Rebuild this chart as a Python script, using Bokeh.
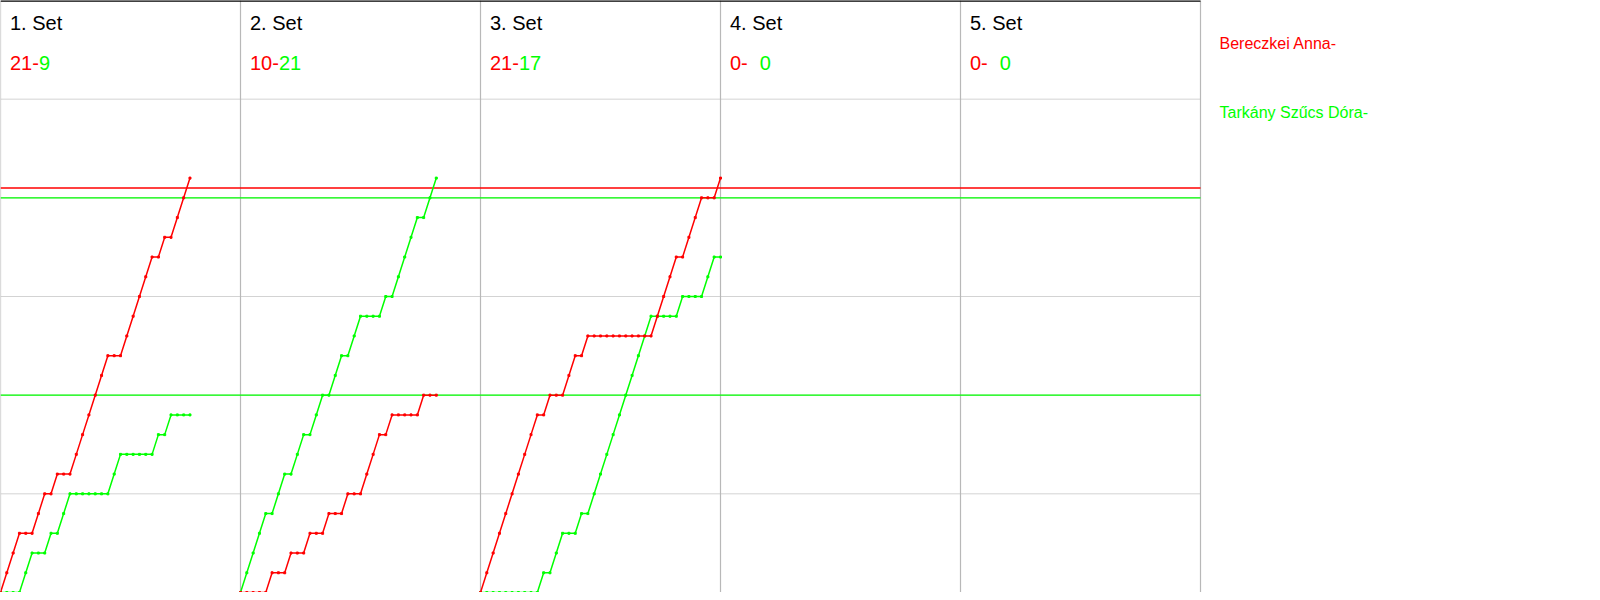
from bokeh.plotting import figure
from bokeh.models import Range1d
from bokeh.embed import file_html
from bokeh.resources import INLINE
from bokeh.core.properties import value

# ---------------- data ----------------
set_titles = ["1. Set", "2. Set", "3. Set", "4. Set", "5. Set"]
red_labels = ["21-", "10-", "21-", "0-", "0-"]
green_labels = ["9", "21", "17", "0", "0"]
red_name = "Bereczkei Anna-"
green_name = "Tarkány Szűcs Dóra-"

# cumulative score after each rally (index 0 = start of set)
set1_red = [0, 1, 2, 3, 3, 3, 4, 5, 5, 6, 6, 6, 7, 8, 9, 10, 11, 12, 12, 12,
            13, 14, 15, 16, 17, 17, 18, 18, 19, 20, 21]
set1_green = [0, 0, 0, 0, 1, 2, 2, 2, 3, 3, 4, 5, 5, 5, 5, 5, 5, 5, 6, 7,
              7, 7, 7, 7, 7, 8, 8, 9, 9, 9, 9]
set2_red = [0, 0, 0, 0, 0, 1, 1, 1, 2, 2, 2, 3, 3, 3, 4, 4, 4, 5, 5, 5,
            6, 7, 8, 8, 9, 9, 9, 9, 9, 10, 10, 10]
set2_green = [0, 1, 2, 3, 4, 4, 5, 6, 6, 7, 8, 8, 9, 10, 10, 11, 12, 12, 13, 14,
              14, 14, 14, 15, 15, 16, 17, 18, 19, 19, 20, 21]
set3_red = [0, 1, 2, 3, 4, 5, 6, 7, 8, 9, 9, 10, 10, 10, 11, 12, 12, 13, 13, 13,
            13, 13, 13, 13, 13, 13, 13, 13, 14, 15, 16, 17, 17, 18, 19, 20, 20, 20, 21]
set3_green = [0, 0, 0, 0, 0, 0, 0, 0, 0, 0, 1, 1, 2, 3, 3, 3, 4, 4, 5, 6,
              7, 8, 9, 10, 11, 12, 13, 14, 14, 14, 14, 14, 15, 15, 15, 15, 16, 17, 17]
red_sets = [set1_red, set2_red, set3_red]
green_sets = [set1_green, set2_green, set3_green]

red_level_lines = [20.5]
green_level_lines = [20, 10]
grid_levels = [0, 5, 10, 15, 20, 25]

# ---------------- styling / layout ----------------
RED = "#ff0000"
GREEN = "#00ff00"
FONT = value("Liberation Sans")
SLOTS = 38          # rally slots per set panel
N_SETS = 5
W, H = 1592, 592
PLOT_PX = 1200      # width of the panel area in px
Y_TOP = 30

total_units = SLOTS * N_SETS
x_end = W * total_units / PLOT_PX

p = figure(width=W, height=H, output_backend="svg", toolbar_location=None,
           x_range=Range1d(0, x_end), y_range=Range1d(0, Y_TOP),
           x_axis_location=None, y_axis_location=None, min_border=0,
           tools="")
p.grid.visible = False
p.outline_line_color = None
p.background_fill_color = "white"
p.border_fill_color = "white"

# horizontal grid lines
p.segment(x0=[0] * len(grid_levels), y0=grid_levels,
          x1=[total_units] * len(grid_levels), y1=grid_levels,
          line_color="#d3d3d3", line_width=1)
# vertical panel separators
bounds = [SLOTS * i for i in range(N_SETS + 1)]
p.segment(x0=bounds, y0=[0] * len(bounds), x1=bounds, y1=[Y_TOP] * len(bounds),
          line_color="#b8b8b8", line_width=1.2)
# top border
p.segment(x0=[0], y0=[Y_TOP], x1=[total_units], y1=[Y_TOP],
          line_color="black", line_width=2.5)

# level lines
p.segment(x0=[0] * len(red_level_lines), y0=red_level_lines,
          x1=[total_units] * len(red_level_lines), y1=red_level_lines,
          line_color=RED, line_width=1.4)
p.segment(x0=[0] * len(green_level_lines), y0=green_level_lines,
          x1=[total_units] * len(green_level_lines), y1=green_level_lines,
          line_color=GREEN, line_width=1.4)

# score progressions
for s, (rs, gs) in enumerate(zip(red_sets, green_sets)):
    xs_r = [SLOTS * s + i for i in range(len(rs))]
    xs_g = [SLOTS * s + i for i in range(len(gs))]
    p.line(xs_g, gs, line_color=GREEN, line_width=1.5)
    p.scatter(xs_g, gs, marker="square", size=2, color=GREEN)
    p.line(xs_r, rs, line_color=RED, line_width=1.5)
    p.scatter(xs_r, rs, marker="square", size=2, color=RED)

# Liberation Sans (Arial metrics) advance widths in em
ADV = {"-": 0.333, " ": 0.278}


def text_width(t, size):
    return sum(ADV.get(c, 0.556) for c in t) * size


TITLE_SIZE = 20
TITLE_Y = 28.85
SCORE_Y = 26.85
for s in range(N_SETS):
    x0 = SLOTS * s
    p.text(x=[x0], y=[TITLE_Y], text=[set_titles[s]], x_offset=9.5,
           text_font=FONT, text_font_size=f"{TITLE_SIZE}px", text_color="black",
           text_baseline="alphabetic", text_align="left")
    p.text(x=[x0], y=[SCORE_Y], text=[red_labels[s]], x_offset=9.5,
           text_font=FONT, text_font_size=f"{TITLE_SIZE}px", text_color=RED,
           text_baseline="alphabetic", text_align="left")
    gap = 12 if red_labels[s] == "0-" else 0
    gx = 9.5 + text_width(red_labels[s], TITLE_SIZE) + gap
    p.text(x=[x0], y=[SCORE_Y], text=[green_labels[s]], x_offset=gx,
           text_font=FONT, text_font_size=f"{TITLE_SIZE}px", text_color=GREEN,
           text_baseline="alphabetic", text_align="left")

# player names on the right
p.text(x=[total_units], y=[27.83], text=[red_name], x_offset=19,
       text_font=FONT, text_font_size="16px", text_color=RED,
       text_baseline="alphabetic", text_align="left")
p.text(x=[total_units], y=[24.3], text=[green_name], x_offset=19,
       text_font=FONT, text_font_size="16px", text_color=GREEN,
       text_baseline="alphabetic", text_align="left")

open("out.html", "w").write(file_html(p, INLINE))
